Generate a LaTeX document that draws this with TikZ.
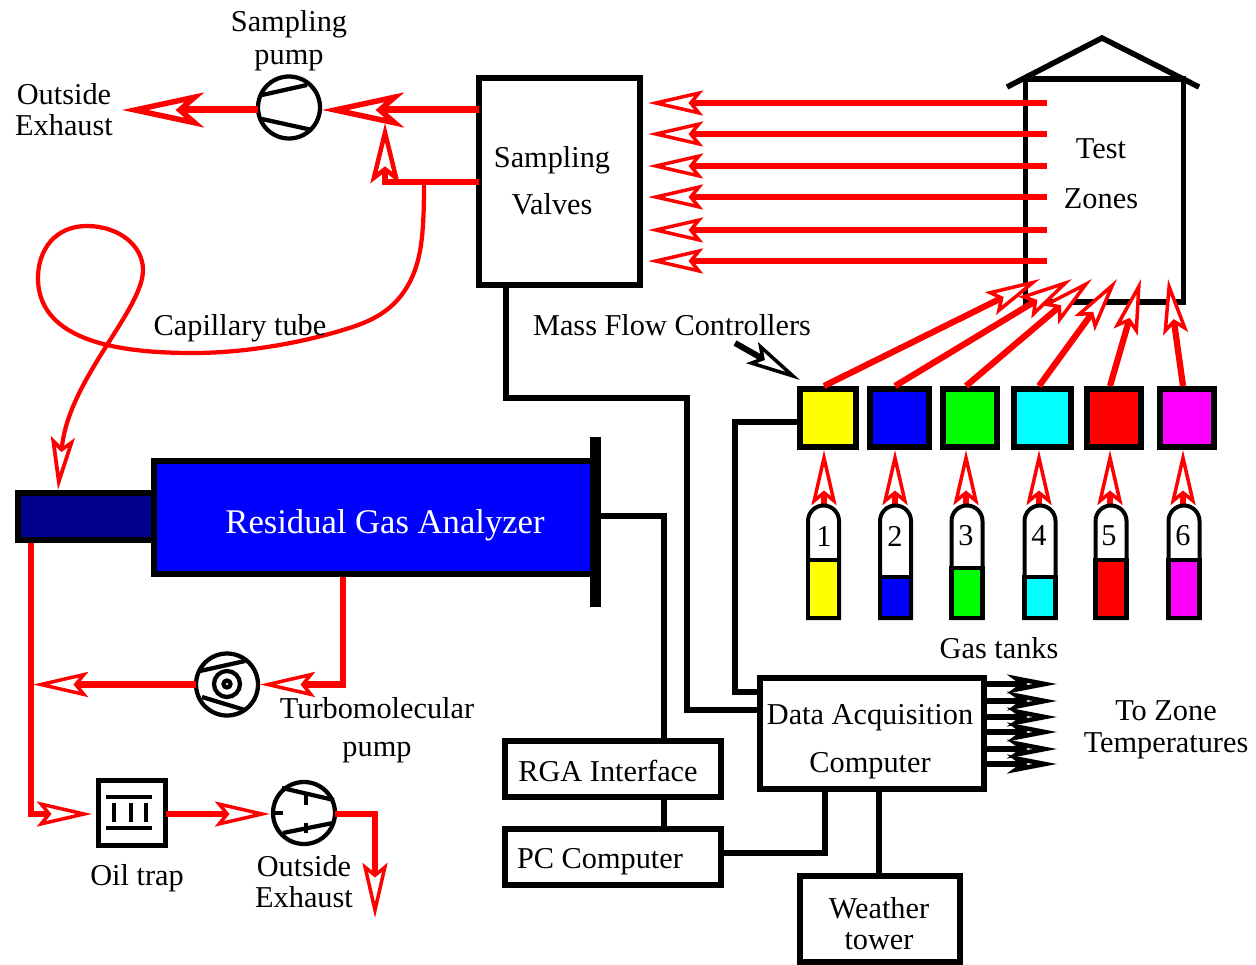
\documentclass[tikz,border=0pt]{standalone}
\usepackage{fontspec}
\setmainfont{Liberation Serif}
\usepackage{tikz}
\usetikzlibrary{arrows.meta}
\definecolor{rganavy}{RGB}{0,0,139}
\definecolor{gasyellow}{RGB}{255,255,0}
\definecolor{gasblue}{RGB}{0,0,255}
\definecolor{gasgreen}{RGB}{0,255,0}
\definecolor{gascyan}{RGB}{0,255,255}
\definecolor{gasred}{RGB}{255,0,0}
\definecolor{gasmagenta}{RGB}{255,0,255}
\tikzset{
  wh/.style 2 args={minimum width=#1*0.2mm, minimum height=#2*0.2mm, inner sep=0pt, outer sep=0pt},
  lbl/.style={align=center, inner sep=0pt},
  boxline/.style={draw, line width=1.15mm},
  wire/.style={draw, line width=1.1mm},
  pumpline/.style={draw, line width=0.85mm},
  flow/.style={draw=gasred, line width=1.25mm},
  bigflow/.style={flow, line width=1.4mm, -{Stealth[length=16.4mm, width=7mm, inset=4mm, fill=white, line width=1.1mm]}},
  midflow/.style={flow, -{Stealth[length=12mm, width=5.8mm, inset=2.2mm, fill=white, line width=0.9mm]}},
  smallflow/.style={flow, -{Stealth[length=11mm, width=5mm, inset=2mm, fill=white, line width=0.7mm]}},
  capillary/.style={draw=gasred, line width=0.85mm, -{Stealth[length=10.6mm, width=4.8mm, inset=2mm, fill=white, line width=0.75mm]}},
  dataout/.style={wire, -{Stealth[length=10mm, width=3.8mm, inset=2.6mm, fill=white, line width=0.9mm]}},
  pointer/.style={wire, line width=1.2mm, -{Stealth[length=11mm, width=4.8mm, inset=2mm, fill=white, line width=0.7mm]}},
}
\begin{document}
\begin{tikzpicture}[x=0.2mm, y=-0.2mm, font=\fontsize{17.25}{17.6}\selectfont]
  \useasboundingbox (0,0) rectangle (1256,964);

  % boxes
  \node[wh={161}{207}, boxline] (valves) at (559.5,181.5) {};
  \node[wh={158}{223}, boxline] (zones) at (1104.5,190.5) {};
  \draw[line width=1.1mm] (1007,87) -- (1102,38) -- (1199,87);
  \node[wh={439}{113}, boxline, line width=1.2mm, fill=gasblue] (rga) at (373.5,517.5) {};
  \node[wh={136}{47}, boxline, line width=1.2mm, fill=rganavy] (inlet) at (86,516.5) {};
  \node[wh={11}{170}, fill=black] (rgabar) at (595.5,522) {};
  \node[wh={216}{56}, boxline] (interface) at (613,769) {};
  \node[wh={216}{56}, boxline] (pc) at (613,857) {};
  \node[wh={224}{111}, boxline] (daq) at (872,733.5) {};
  \node[wh={160}{86}, boxline] (tower) at (880,919) {};
  \node[wh={67}{65}, boxline, line width=0.9mm] (trap) at (132,813) {};

  % pumps
  \node[wh={62}{62}, circle, pumpline] (samplepump) at (289,107.5) {};
  \draw[pumpline] (262,95) -- (307,85) (262,119) -- (312,130);
  \node[wh={62}{62}, circle, pumpline] (turbo) at (227,684.5) {};
  \draw[pumpline] (200,671) -- (245,661) (202,697) -- (245,710);
  \draw[pumpline] (227,684) circle (13) (227,684) circle (3.5);
  \node[wh={62}{62}, circle, pumpline] (roughpump) at (304,813) {};
  \draw[pumpline] (282,788) -- (334,800) (283,833) -- (333,823);
  \draw[pumpline] (272,813) -- (283,813) (306,795) -- (306,805) (306,823) -- (306,833);

  % oil trap inside
  \draw[pumpline] (106,797) -- (152,797) (106,828) -- (152,828);
  \draw[pumpline] (114,803) -- (114,822) (131,803) -- (131,822) (146,803) -- (146,822);

  % test zones to valves
  \foreach \i/\y in {1/103, 2/134, 3/166, 4/197, 5/230, 6/261} {
    \coordinate (zone\i) at (1047,\y);
    \coordinate (valve\i) at (648,\y);
    \draw[smallflow] (zone\i) -- (valve\i);
  }

  % controllers and tanks
  \foreach \i/\xc/\w/\xa/\xt/\col in {1/828/56/824/1040/gasyellow, 2/899.5/59/895/1072/gasblue, 3/970/54/966/1092/gasgreen, 4/1042.5/57/1039/1117/gascyan, 5/1114/54/1110/1141/gasred, 6/1187/54/1183/1168/gasmagenta} {
    \node[wh={\w}{58}, boxline, line width=1.2mm, fill=\col] (mfc\i) at (\xc,418) {};
    \coordinate (mfctop\i) at (\xa,386);
    \coordinate (mfcbot\i) at (\xa,450);
    \coordinate (tanktop\i) at (\xa,505);
    \coordinate (zonein\i) at (\xt,279);
    \draw[smallflow] (mfctop\i) -- (zonein\i);
    \draw[smallflow] (tanktop\i) -- (mfcbot\i);
  }
  \foreach \i/\xc/\lev/\col in {1/823.5/560/gasyellow, 2/895.5/577/gasblue, 3/967/568/gasgreen, 4/1040/577/gascyan, 5/1111/560/gasred, 6/1184/560/gasmagenta} {
    \draw[line width=0.8mm] (\xc-15.5,618) -- (\xc-15.5,521) arc[start angle=180, end angle=360, radius=15.5] -- (\xc+15.5,618) -- cycle;
    \draw[line width=0.9mm, fill=\col] (\xc-15.5,\lev) rectangle (\xc+15.5,618);
  }
  \foreach \i/\x in {1/824, 2/895, 3/966, 4/1039, 5/1109, 6/1183}
    \node[lbl] (tank\i) at (\x,536) {\i};

  % sampling line
  \coordinate (valveout) at (479,110);
  \coordinate (exhausttip) at (122,110);
  \coordinate (capout) at (479,182);
  \coordinate (capcorner) at (385,182);
  \coordinate (capfoot) at (385,185);
  \coordinate (capjoin) at (385,123);
  \coordinate (capstart) at (424,182);
  \coordinate (inlettip) at (58,490);
  \coordinate (pumpin) at (322,110);
  \draw[bigflow] (valveout) -- (pumpin);
  \draw[bigflow] (samplepump.west |- valveout) -- (exhausttip);
  \draw[flow] (capout) -- (capcorner);
  \draw[midflow] (capfoot) -- (capjoin);
  \draw[capillary] (capstart) .. controls (424,232) and (422,262) .. (407,287)
    .. controls (392,312) and (370,322) .. (343,330)
    .. controls (300,343) and (245,353) .. (193,353)
    .. controls (130,353) and (38,345) .. (38,278)
    .. controls (38,250) and (55,226) .. (87,226)
    .. controls (118,226) and (143,245) .. (143,270)
    .. controls (143,310) and (68,380) .. (inlettip);

  % vacuum side
  \coordinate (rgaout) at (343,577);
  \coordinate (turboin) at (260,684.5);
  \coordinate (foreline) at (33,684.5);
  \coordinate (inletout) at (31,543);
  \coordinate (traptip) at (92,814);
  \coordinate (pumptip) at (270,814);
  \coordinate (traprim) at (166,814);
  \coordinate (exhaustout) at (335,814);
  \coordinate (exhaustend) at (375,918);
  \draw[smallflow] (rgaout) |- (turboin);
  \draw[smallflow] (turbo.west) -- (foreline);
  \draw[smallflow] (inletout) |- (traptip);
  \draw[smallflow] (traprim) -- (pumptip);
  \draw[smallflow] (exhaustout) -| (exhaustend);

  % signal wiring
  \coordinate (valvebase) at (506,285);
  \coordinate (daqin) at (759,710);
  \coordinate (daqctl) at (759,692);
  \coordinate (barout) at (601,516);
  \coordinate (interfacetop) at (664,741);
  \coordinate (interfacebase) at (664,797);
  \coordinate (pctop) at (664,829);
  \coordinate (pcout) at (721,853);
  \coordinate (daqbase) at (825,789);
  \coordinate (towertop) at (879,876);
  \coordinate (daqbase2) at (879,789);
  \coordinate (mfcside) at (799,422);
  \draw[wire] (valvebase) -- (506,398) -- (687,398) -- (687,710) -- (daqin);
  \draw[wire] (mfcside) -- (735,422) -- (735,692) -- (daqctl);
  \draw[wire] (barout) -| (interfacetop);
  \draw[wire] (interfacebase) -- (pctop);
  \draw[wire] (pcout) -| (daqbase);
  \draw[wire] (towertop) -- (daqbase2);
  \foreach \i/\y in {1/684, 2/701, 3/717, 4/732, 5/749, 6/764} {
    \coordinate (daqout\i) at (984,\y);
    \coordinate (zonetemp\i) at (1057,\y);
    \draw[dataout] (daqout\i) -- (zonetemp\i);
  }
  \coordinate (pointertail) at (735,343);
  \coordinate (pointertip) at (800,380);
  \draw[pointer] (pointertail) -- (pointertip);

  % labels
  \node[lbl] (pumplabel) at (289,41) {Sampling\\[1.2pt]pump};
  \node[lbl] (exhaustlabel) at (64,110) {Outside\\Exhaust};
  \node[lbl] (valveslabel) at (552,180.5) {Sampling\\[9.4pt]Valves};
  \node[lbl] (zoneslabel) at (1101,174) {Test\\[10.8pt]Zones};
  \node[lbl] (captube) at (240,328) {Capillary tube};
  \node[lbl] (mfclabel) at (672,325) {Mass Flow Controllers};
  \node[lbl, text=white, font=\fontsize{19.7}{20}\selectfont] (rgalabel) at (385,525) {Residual Gas Analyzer};
  \node[lbl] (turbolabel) at (377,730.5) {Turbomolecular\\[4.2pt]pump};
  \node[lbl] (traplabel) at (137,878) {Oil trap};
  \node[lbl] (exhaustlabel2) at (304,882) {Outside\\Exhaust};
  \node[lbl] (tanklabel) at (999,648) {Gas tanks};
  \node[lbl] (templabel) at (1166,729.5) {To Zone\\[0.5pt]Temperatures};
  \node[lbl] (daqlabel) at (870,742) {Data Acquisition\\[9.7pt]Computer};
  \node[lbl] (interfacelabel) at (608,771) {RGA Interface};
  \node[lbl] (pclabel) at (600,862) {PC Computer};
  \node[lbl] (towerlabel) at (879,924) {Weather\\tower};
\end{tikzpicture}
\end{document}
